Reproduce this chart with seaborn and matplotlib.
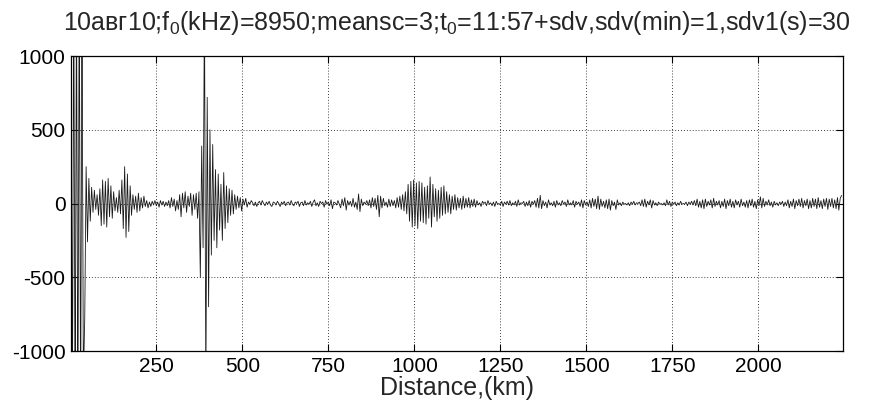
import numpy as np
import pandas as pd
import seaborn as sns
import matplotlib
matplotlib.use("Agg")
import matplotlib.pyplot as plt

STEP = 4  # km between samples

# signal pieces: (start distance, values)
seg_start = [2, 46, 202, 294, 378, 474, 942, 1182]

seg1 = [1600, -1600, 1600, -1600, 1500, -1600, 1600, -1500, 1400, -1200, -780]
seg2 = [250, -260, 170, -120, 110, -60, 90, -40, 60, -80, 100, -150, 160, -140, 150, -160,
        170, -90, 120, -100, 80, -50, 40, -60, 90, -70, 160, -170, 250, -230, 200, -190,
        120, -80, 60, -40, 50, -60, 70]
seg3 = [-50, 40, -30, 50, -20, 20, -30, 10, -20, 15, -10, 20, -15, 10, -25, 20, -10, 15,
        -20, 10, -15, 20, -30]
seg4 = [40, -20, 30, -50, 20, -40, 60, -90, 70, -30, 80, -60, 50, -20, 70, -80, 60, -40,
        70, -100, 80]
seg5 = [-500, 390, -300, 1400, -1300, 720, -700, 500, -350, 400, -250, 230, -300, 200,
        -180, 130, -250, 210, -170, 120, -130, 100, -80, 90]
seg6 = [-70, 60, -40, 50, -30, 40, -50, 30, -10, 35, -25, 10, -5, 20, 5, -15, 10, -20, 5, 15,
        -10, 20, 0, -15, 10, -5, 15, -10, -20, 10, 5, -10, 15, 0, -20, 10, -5, 15, -15, 5,
        10, -10, 20, -5, -15, 10, 0, 15, -20, 5, 10, -15, 20, -10, 5, -5, 15, -20, 10, 25,
        -15, 5, -20, 15, 0, 10, -25, 20, -5, 10, -15, 25, -35, 10, 5, -10, 20, -5, -30, 30,
        -15, 40, -45, 20, -10, 15, -20, 35, -25, 10, -40, 65, -55, 30, -15, 10, -5, 20, -15, 25,
        -30, 40, -20, 35, -40, 55, -90, 50, -30, 35, -15, 10, -25, 30, -20, 25, -15]
seg7 = [20, -30, 40, -25, 50, -40, 60, -50, 80, -70, 130, -120, 150, -160, 160, -150, 140,
        -170, 150, -120, 140, -130, 110, -140, 120, -100, 180, -160, 130, -90, 100, -120, 90,
        -100, 110, -80, 120, -70, 80, -60, 60, -70, 50, -40, 60, -45, 40, -30, 35, -40, 50,
        -30, 35, -25, 40, -30, 25, -20, 30, -25]
seg8 = [20, -10, 5, -20, 15, 0, 10, -15, 20, -5, 5, -15, 10, -20, 15, -5, 0, -10, 15, -20,
        10, -5, 15, -10, 20, -15, 5, -10, 15, -20, 25, -10, 5, 0, 15, -20, 10, -15, 20, -25,
        15, -5, 20, -25, 35, -30, 55, -35, 20, -15, 10, -30, 25, -10, 5, -15, 15, -25, 20, -10,
        5, -15, 20, -5, 10, -20, 25, -10, 5, -10, 20, -25, 15, -5, 10, -20, 25, -30, 20, -10,
        10, -20, 25, -30, 35, -20, 30, -35, 50, -40, 30, -20, 15, -30, 25, -35, 30, -45, 20, -15,
        10, -40, 25, -10, 5, -15, 10, -5, 0, -10, 5, -15, 10, -5, 15, -10, 5, 0, 10, -15,
        25, -20, 30, -25, 15, -10, 25, -30, 20, -10, 5, -15, 10, -5, 0, -10, 5, -15, 25, -10,
        15, -20, 10, -5, 10, -15, 5, -10, 15, -5, 0, -5, 10, -15, 10, -5, 15, -10, 20, -15,
        30, -25, 15, -30, 25, -35, 30, -20, 15, -10, 25, -30, 35, -20, 15, -10, 20, -30, 15, -20,
        30, -35, 20, -15, 30, -25, 15, -30, 25, -10, 15, -25, 30, -15, 10, -25, 20, -30, 25, -15,
        30, -25, 15, -35, 25, -15, 45, -30, 35, -20, 15, -10, 25, -15, 10, -25, 15, -10, 5, -15,
        10, -5, 15, -20, 10, -15, 25, -30, 15, -20, 30, -35, 20, -15, 30, -20, 35, -30, 20, -15,
        30, -35, 20, -30, 35, -20, 30, -35, 40, -25, 20, -35, 30, -20, 35, -40, 30, -20, 35, -30,
        25, -35, 40, -45, 35, 55]

segments = [seg1, seg2, seg3, seg4, seg5, seg6, seg7, seg8]

xticks = [250, 500, 750, 1000, 1250, 1500, 1750, 2000]
yticks = [-1000, -500, 0, 500, 1000]
title = "10авг10;f$_0$(kHz)=8950;meansc=3;t$_0$=11:57+sdv,sdv(min)=1,sdv1(s)=30"

rows = []
for start, vals in zip(seg_start, segments):
    for i, v in enumerate(vals):
        rows.append((start + STEP * i, v))
df = pd.DataFrame(rows, columns=["dist", "amp"])

sns.set_style("ticks")
plt.rcParams["font.family"] = ["Liberation Sans", "DejaVu Sans"]
plt.rcParams["mathtext.fontset"] = "custom"
plt.rcParams["mathtext.rm"] = "Liberation Sans"
plt.rcParams["mathtext.default"] = "regular"
plt.rcParams["axes.unicode_minus"] = False

fig = plt.figure(figsize=(8.72, 4.08), dpi=100)
ax = fig.add_axes([0.0814, 0.1397, 0.8853, 0.7230])

sns.lineplot(data=df, x="dist", y="amp", ax=ax, color="#1a1a1a", linewidth=0.6,
             estimator=None, sort=False)

ax.set_xlim(2, 2246)
ax.set_ylim(-1000, 1000)
ax.set_xticks(xticks)
ax.set_yticks(yticks)
ax.grid(True, color="black", linestyle=(0, (1, 2.5)), linewidth=0.6)
ax.tick_params(direction="in", length=5, width=0.8, top=True, right=True,
               labelsize=15, pad=4, colors="black")
for s in ax.spines.values():
    s.set_color("black")
    s.set_linewidth(0.9)

ax.set_xlabel("Distance,(km)", fontsize=18, labelpad=0)
ax.set_ylabel("")
ax.set_title(title, fontsize=18, pad=19)

fig.savefig("out.png", dpi=100)
